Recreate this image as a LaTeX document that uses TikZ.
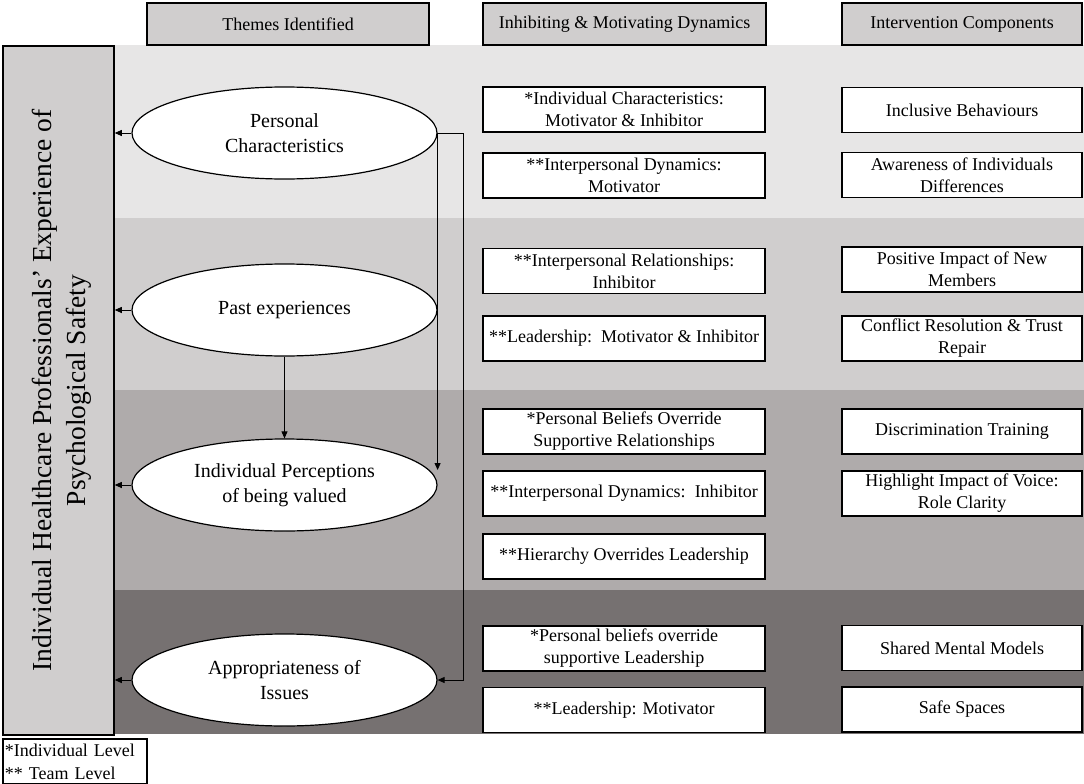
\documentclass[tikz,border=0pt]{standalone}
\usepackage{fontspec}
\setmainfont{Liberation Serif}
\usetikzlibrary{calc, arrows.meta, positioning, shapes.geometric}

\definecolor{bandA}{HTML}{E7E6E6}
\definecolor{bandB}{HTML}{D0CECE}
\definecolor{bandC}{HTML}{AFABAB}
\definecolor{bandD}{HTML}{767171}
\definecolor{headgrey}{HTML}{D0CECE}

\begin{document}
\begin{tikzpicture}[x=1pt, y=-1pt,
    head/.style={draw, line width=1.5pt, fill=headgrey, minimum height=42pt, inner sep=2pt,
        font=\fontsize{18}{22}\selectfont},
    dynbox/.style={draw, line width=1.5pt, fill=white, minimum width=282pt, minimum height=45pt,
        inner sep=2pt, align=center, font=\fontsize{18}{22}\selectfont},
    intbox/.style={dynbox, minimum width=240pt},
    theme/.style={draw, ellipse, line width=1.2pt, fill=white, minimum width=305pt, minimum height=92pt,
        inner sep=0pt, align=center, font=\fontsize{20}{25}\selectfont},
    conn/.style={line width=0.8pt, -{Triangle[length=7pt,width=6pt]}}]
    \useasboundingbox (0,0) rectangle (1084,784);

    % shaded bands
    \fill [bandA] (114,45) rectangle (1084,218);
    \fill [bandB] (114,218) rectangle (1084,390);
    \fill [bandC] (114,390) rectangle (1084,590);
    \fill [bandD] (114,590) rectangle (1084,734);

    % column headings
    \node (hthemes) [head, minimum width=282pt] at (288,24) {Themes Identified};
    \node (hdyn) [head, minimum width=283pt] at (624.5,24) {Inhibiting \& Motivating Dynamics};
    \node (hint) [head, minimum width=240pt] at (962,24) {Intervention Components};

    % outcome box
    \node (exp) [draw, line width=1.5pt, fill=headgrey, minimum width=111pt, minimum height=689pt] at (58.5,390.5) {};
    \node [rotate=90, align=center, font=\fontsize{27.5}{34}\selectfont] at ($(exp.center)+(3,0)$)
        {Individual Healthcare Professionals’ Experience of\\Psychological Safety};

    % themes
    \node (pers) [theme] at (284.5,133) {Personal\\Characteristics};
    \node (past) [theme] at (284.5,310) {Past experiences};
    \node (perc) [theme] at (284.5,485) {Individual Perceptions\\of being valued};
    \node (appr) [theme] at (284.5,680) {Appropriateness of\\Issues};

    % dynamics
    \node (dyn1) [dynbox] at (624,109.5) {*Individual Characteristics:\\Motivator \& Inhibitor};
    \node (dyn2) [dynbox] at (624,175.5) {**Interpersonal Dynamics:\\Motivator};
    \node (dyn3) [dynbox] at (624,271) {**Interpersonal Relationships:\\Inhibitor};
    \node (dyn4) [dynbox] at (624,338.5) {**Leadership:\ \ Motivator \& Inhibitor};
    \node (dyn5) [dynbox] at (624,431.5) {*Personal Beliefs Override\\Supportive Relationships};
    \node (dyn6) [dynbox] at (624,493.5) {**Interpersonal Dynamics:\ \ Inhibitor};
    \node (dyn7) [dynbox] at (624,556.5) {**Hierarchy Overrides Leadership};
    \node (dyn8) [dynbox] at (624,648.5) {*Personal beliefs override\\supportive Leadership};
    \node (dyn9) [dynbox] at (624,710) {**Leadership: Motivator};

    % interventions
    \node (int1) [intbox] at (962,110) {Inclusive Behaviours};
    \node (int2) [intbox] at (962,175) {Awareness of Individuals\\Differences};
    \node (int3) [intbox] at (962,269.5) {Positive Impact of New\\Members};
    \node (int4) [intbox] at (962,338.5) {Conflict Resolution \& Trust\\Repair};
    \node (int5) [intbox] at (962,431.5) {Discrimination Training};
    \node (int6) [intbox] at (962,493.5) {Highlight Impact of Voice:\\Role Clarity};
    \node (int7) [intbox] at (962,648) {Shared Mental Models};
    \node (int8) [intbox] at (962,709.5) {Safe Spaces};

    % arrows
    \foreach \t in {pers, past, perc, appr}
        \draw [conn] (\t.west) -- (\t.west -| exp.east);
    \draw [conn] (past.south) -- (perc.north);
    \draw [conn] (pers.east) -- ($(perc.east)+(0,-15)$);
    \draw [conn] (pers.east) -- ++(26,0) |- (appr.east);

    % key
    \node (key) [draw, line width=1.5pt, fill=white, text width=140pt, minimum height=45pt, inner sep=2pt,
        align=left, font=\fontsize{18}{23}\selectfont] at (75,761.5) {*Individual Level\\{}** Team Level};
\end{tikzpicture}
\end{document}
